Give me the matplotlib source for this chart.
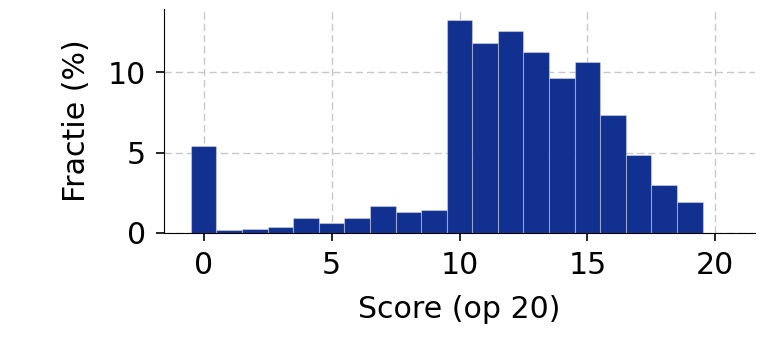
import matplotlib
matplotlib.use("Agg")
import matplotlib.pyplot as plt

# score (op 20) and share of students in percent
scores = list(range(21))
fractions = [5.39, 0.17, 0.23, 0.40, 0.92, 0.65, 0.96, 1.68, 1.29, 1.46,
             13.26, 11.83, 12.57, 11.25, 9.66, 10.64, 7.32, 4.83, 2.97, 1.90,
             0.03]

fig = plt.figure(figsize=(7.72, 3.42), dpi=100)
ax = fig.add_axes([164 / 772, 1 - 233 / 342, (755 - 164) / 772, (233 - 9) / 342])

ax.bar(scores, fractions, width=1.0, color="#12308f",
       edgecolor=(1, 1, 1, 0.35), linewidth=0.8, zorder=2)

ax.grid(True, linestyle=(0, (5.2, 2.9)), color="#c8c8c8", linewidth=1.0, zorder=0)
ax.set_axisbelow(True)
ax.spines["top"].set_visible(False)
ax.spines["right"].set_visible(False)
ax.set_xticks([0, 5, 10, 15, 20])
ax.set_yticks([0, 5, 10])
ax.tick_params(labelsize=21.6, length=6, width=1.2, pad=7)
ax.set_xlabel("Score (op 20)", fontsize=21.6, labelpad=11)
ax.set_ylabel("Fractie (%)", fontsize=21.6, labelpad=12)

fig.savefig("out.png", dpi=100)
